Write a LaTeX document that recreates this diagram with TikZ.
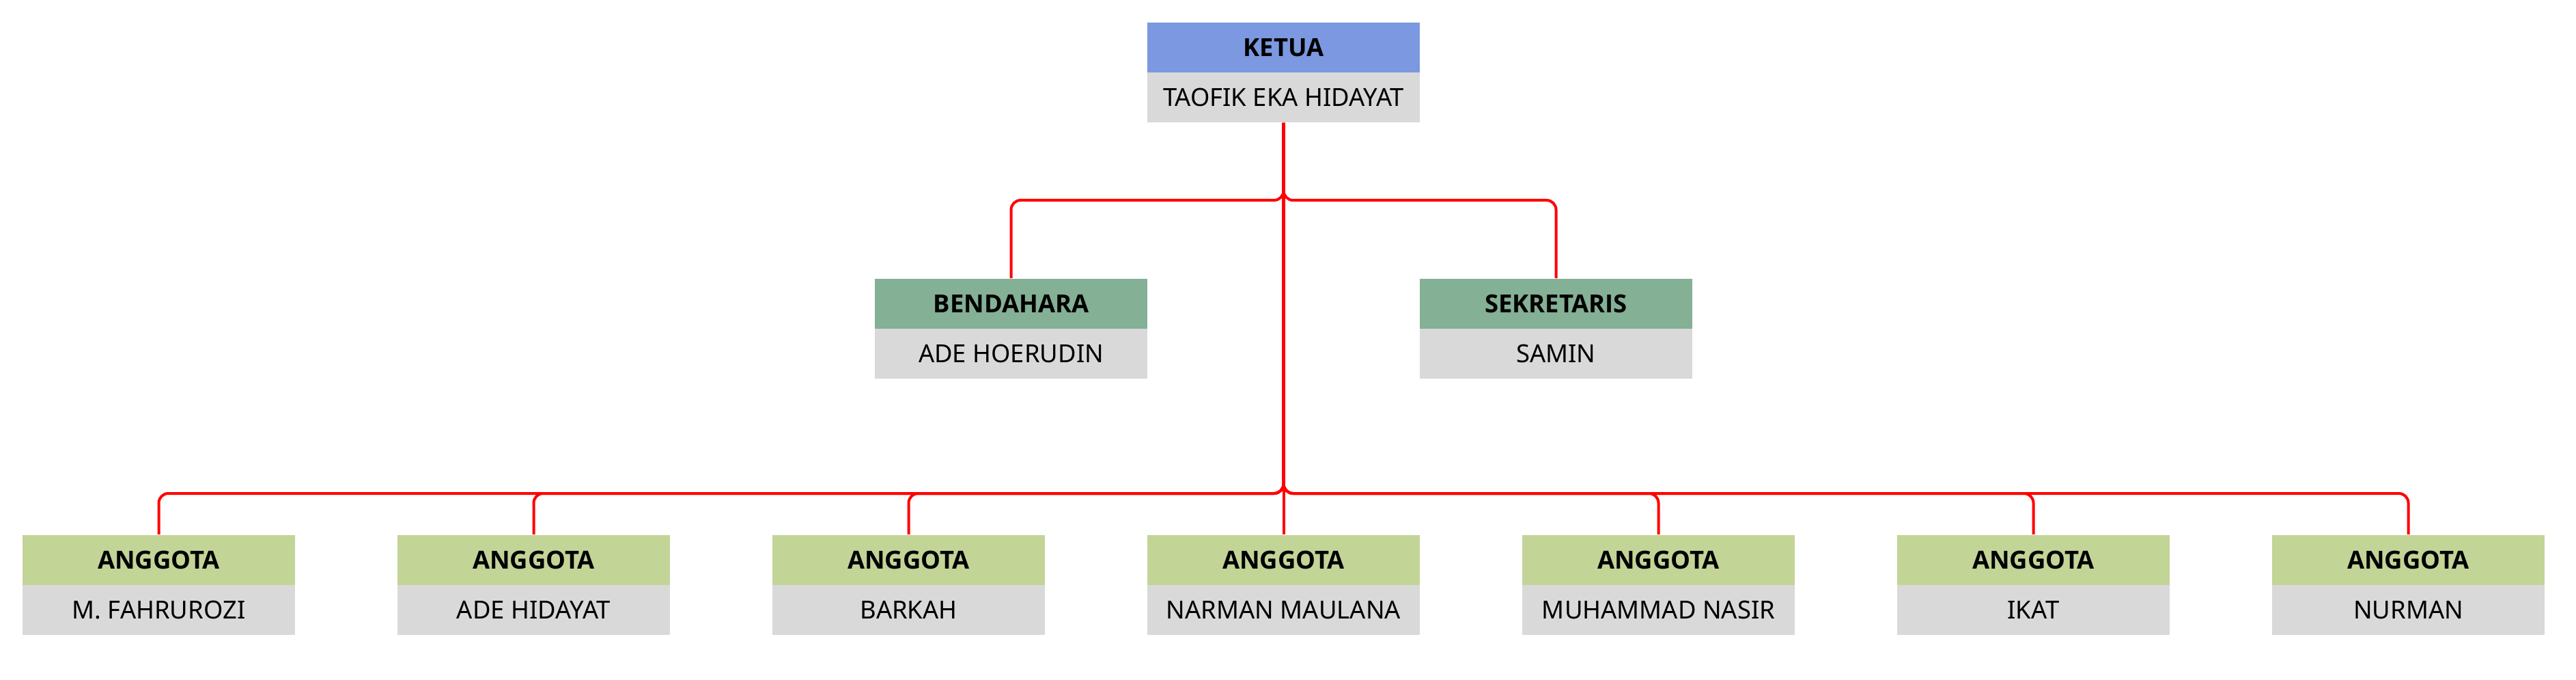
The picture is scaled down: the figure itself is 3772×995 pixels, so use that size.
\documentclass[tikz,border=0pt]{standalone}
\usepackage{fontspec}
\setmainfont{Noto Sans}
\newfontfamily\hdfont{Open Sans}
\definecolor{hblue}{RGB}{123,152,224}
\definecolor{hgreen}{RGB}{132,176,149}
\definecolor{hlime}{RGB}{195,212,151}
\definecolor{ngray}{RGB}{217,217,217}
\definecolor{cred}{RGB}{255,0,0}
\tikzset{
  cellbox/.style={inner sep=0pt, minimum width=99.75pt, minimum height=18.25pt, text=black},
  headbox/.style={cellbox, font=\hdfont\fontsize{9.1}{11}\selectfont\bfseries},
  namebox/.style={cellbox, fill=ngray, font=\fontsize{9.1}{11}\selectfont},
  conn/.style={draw=cred, line width=1pt, rounded corners=3.5pt},
}
\begin{document}
\begin{tikzpicture}[x=0.25pt, y=-0.25pt]
\useasboundingbox (0,0) rectangle (3772,995);
% top
\node[headbox, fill=hblue] (ketua-h) at (1879.5,69.5) {KETUA};
\node[namebox] (ketua-n) at (1879.5,142.5) {TAOFIK EKA HIDAYAT};
% middle
\node[headbox, fill=hgreen] (bend-h) at (1480.5,444.5) {BENDAHARA};
\node[namebox] (bend-n) at (1480.5,517.5) {ADE HOERUDIN};
\node[headbox, fill=hgreen] (sek-h) at (2278.5,444.5) {SEKRETARIS};
\node[namebox] (sek-n) at (2278.5,517.5) {SAMIN};
% bottom
\foreach \i/\x/\nm in {1/232.5/M. FAHRUROZI, 2/781.5/ADE HIDAYAT, 3/1330.5/BARKAH, 4/1879.5/NARMAN MAULANA, 5/2428.5/MUHAMMAD NASIR, 6/2977.5/IKAT, 7/3526.5/NURMAN}{
  \node[headbox, fill=hlime] (a\i-h) at (\x,819.5) {ANGGOTA};
  \node[namebox] (a\i-n) at (\x,892.5) {\nm};
}
\coordinate (bus1) at (0,293);
\coordinate (bus2) at (0,722);
% connectors
\draw[conn] (ketua-n.south) -- (ketua-n.south |- bus1) -| (bend-h.north);
\draw[conn] (ketua-n.south) -- (ketua-n.south |- bus1) -| (sek-h.north);
\foreach \i in {1,2,3,5,6,7}{
  \draw[conn] (ketua-n.south) -- (ketua-n.south |- bus2) -| (a\i-h.north);
}
\draw[conn] (ketua-n.south) -- (a4-h.north);
\end{tikzpicture}
\end{document}
